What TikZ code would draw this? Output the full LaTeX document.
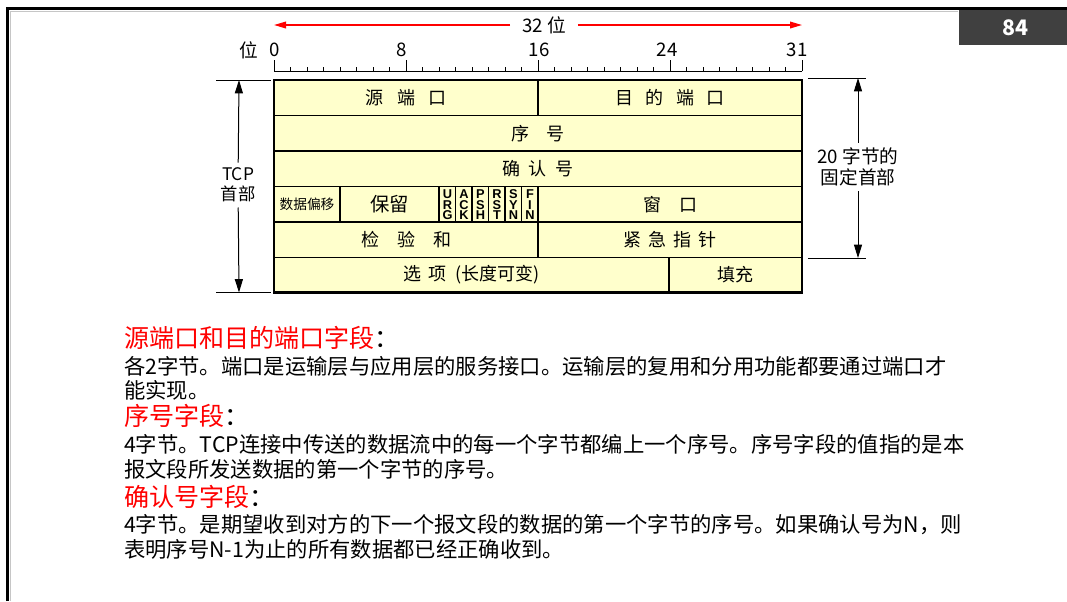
\documentclass[tikz,border=0pt]{standalone}
\usepackage{fontspec}
\setmainfont{Noto Sans CJK SC}
\newfontfamily\flagfont{Liberation Sans}
\usetikzlibrary{arrows.meta}
\definecolor{cellfill}{RGB}{255,255,204}
\definecolor{pgray}{RGB}{64,64,64}
\definecolor{hdred}{RGB}{255,0,0}
\newcommand\fieldcell[6]{%
  \draw[field] (#2,#3) rectangle (#4,#5);
  \node[celltxt] (#1) at ({(#2+#4)/2},{(#3+#5)/2}) {#6};
}
\begin{document}
\begin{tikzpicture}[x=0.75pt,y=-0.75pt,
  every node/.style={inner sep=0pt, outer sep=0pt},
  bodytxt/.style={anchor=west, font=\fontsize{16}{19}\selectfont, text height=12.6pt, text depth=1.6pt},
  headtxt/.style={anchor=west, font=\fontsize{18.8}{21}\selectfont, text height=14.8pt, text depth=1.9pt},
  celltxt/.style={font=\fontsize{13.5}{16}\selectfont},
  field/.style={draw=black, line width=0.8pt, fill=cellfill},
  flagtxt/.style={font=\flagfont\bfseries\fontsize{9.6}{10}\selectfont, text height=6.8pt, text depth=0pt},
  rulerlbl/.style={font=\fontsize{14}{16}\selectfont},
  sidelbl/.style={align=center, font=\fontsize{13}{15}\selectfont, inner ysep=4pt},
  dimarrow/.style={-{Triangle[length=10pt,width=6pt]}, line width=0.75pt},
  redarrow/.style={-{Triangle[length=9pt,width=5pt]}, line width=1.1pt, draw=hdred},
]
\useasboundingbox (0,0) rectangle (1067,601);

% slide frame
\draw[gray!45, line width=0.8pt] (10.5,601) -- (10.5,11.5) -- (958,11.5);
\draw[line width=2.3pt] (7.5,601) -- (7.5,8.5) -- (1067,8.5);
\fill[pgray] (959,10) rectangle (1067,45);
\node[text=white, font=\fontsize{16}{18}\selectfont\bfseries] (pg) at (1015,28) {84};

% 32 bit arrow
\coordinate (rl) at (274,25);
\coordinate (rr) at (802,25);
\node[rulerlbl, inner xsep=9pt] (w32) at (544,25) {32 位};
\draw[redarrow] (w32) -- (rl);
\draw[redarrow] (w32) -- (rr);

% ruler
\draw[line width=0.75pt] (274,71) -- (802,71);
\foreach \i in {0,...,32} \draw[line width=0.6pt] (274+16.5*\i,71) -- ++(0,-4.5);
\foreach \i in {0,8,16,24,32} \draw[line width=0.75pt] (274+16.5*\i,71) -- ++(0,-11);
\node[rulerlbl] (wei) at (249,50) {位};
\node[rulerlbl] (b0) at (275,50) {0};
\node[rulerlbl] (b8) at (402,50) {8};
\node[rulerlbl] (b16) at (539,50) {16};
\node[rulerlbl] (b24) at (667,50) {24};
\node[rulerlbl] (b31) at (797,50) {31};

% table
\fieldcell{src}{274}{80}{538}{115.5}{源\hspace{0.75em}端\hspace{0.75em}口}
\fieldcell{dst}{538}{80}{802}{115.5}{目\hspace{0.7em}的\hspace{0.7em}端\hspace{0.7em}口}
\fieldcell{seq}{274}{115.5}{802}{151}{序\hspace{0.9em}号}
\fieldcell{ack}{274}{151}{802}{186.5}{确\hspace{0.45em}认\hspace{0.45em}号}
\fieldcell{off}{274}{186.5}{340}{222}{\fontsize{10.3}{12}\selectfont 数据偏移}
\fieldcell{res}{340}{186.5}{439}{222}{\fontsize{14.5}{16}\selectfont 保留}
\foreach \a/\b/\c [count=\k from 0] in {U/R/G, A/C/K, P/S/H, R/S/T, S/Y/N, F/I/N}{
  \draw[field] (439+16.5*\k,186.5) rectangle ++(16.5,35.5);
  \node[flagtxt] (flag\k a) at (447.5+16.5*\k,194.2) {\a};
  \node[flagtxt] (flag\k b) at (447.5+16.5*\k,204.6) {\b};
  \node[flagtxt] (flag\k c) at (447.5+16.5*\k,215.0) {\c};
}
\fieldcell{win}{538}{186.5}{802}{222}{窗\hspace{1em}口}
\fieldcell{chk}{274}{222}{538}{257.5}{检\hspace{1em}验\hspace{1em}和}
\fieldcell{urg}{538}{222}{802}{257.5}{紧\hspace{0.4em}急\hspace{0.4em}指\hspace{0.4em}针}
\fieldcell{opt}{274}{257.5}{669}{292.5}{选\hspace{0.35em}项\hspace{0.5em}(长度可变)}
\fieldcell{pad}{669}{257.5}{802}{292.5}{填充}
\draw[line width=2pt] (274,80) rectangle (802,292.5);

% left dimension
\coordinate (ltop) at (239,80);
\coordinate (lbot) at (239,292.5);
\draw[line width=0.75pt] (216,80) -- (271,80);
\draw[line width=0.75pt] (216,292.5) -- (271,292.5);
\node[sidelbl] (tcp) at (238,185) {TCP\\首部};
\draw[dimarrow] (tcp) -- (ltop);
\draw[dimarrow] (tcp) -- (lbot);

% right dimension
\coordinate (rtop) at (858,78);
\coordinate (rbot) at (858,258);
\draw[line width=0.75pt] (808,78) -- (866,78);
\draw[line width=0.75pt] (808,258) -- (866,258);
\node[sidelbl, font=\fontsize{14}{15.5}\selectfont] (fix) at (858,167) {20 字节的\\固定首部};
\draw[dimarrow] (fix) -- (rtop);
\draw[dimarrow] (fix) -- (rbot);

% text
\node[headtxt] (h1) at (124,339) {\textcolor{hdred}{源端口和目的端口字段}：};
\node[bodytxt] (l1) at (124,367) {各2字节。端口是运输层与应用层的服务接口。运输层的复用和分用功能都要通过端口才};
\node[bodytxt] (l2) at (124,391) {能实现。};
\node[headtxt] (h2) at (124,417) {\textcolor{hdred}{序号字段}：};
\node[bodytxt] (l3) at (124,445) {4字节。TCP连接中传送的数据流中的每一个字节都编上一个序号。序号字段的值指的是本};
\node[bodytxt] (l4) at (124,470) {报文段所发送数据的第一个字节的序号。};
\node[headtxt] (h3) at (124,498) {\textcolor{hdred}{确认号字段}：};
\node[bodytxt] (l5) at (124,525) {4字节。是期望收到对方的下一个报文段的数据的第一个字节的序号。如果确认号为N，则};
\node[bodytxt] (l6) at (124,550) {表明序号N-1为止的所有数据都已经正确收到。};
\end{tikzpicture}
\end{document}
